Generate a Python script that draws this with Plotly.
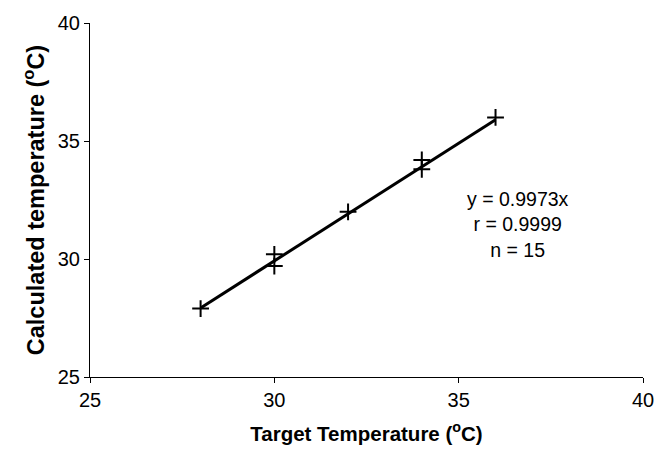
import plotly.graph_objects as go

target = [28, 30, 30, 32, 34, 34, 36]
calculated = [27.9, 30.2, 29.7, 32.0, 34.2, 33.8, 36.0]
slope = 0.9973
fit_x = [28, 36]
fit_y = [slope * v for v in fit_x]
ticks = [25, 30, 35, 40]
stats_text = "y = 0.9973x<br>r = 0.9999<br>n = 15"

FONT = "Liberation Sans, Arial, sans-serif"

fig = go.Figure()
fig.add_trace(go.Scatter(x=fit_x, y=fit_y, mode="lines",
                         line=dict(color="black", width=3), showlegend=False))
fig.add_trace(go.Scatter(x=target, y=calculated, mode="markers",
                         marker=dict(symbol="cross-thin", size=12,
                                     line=dict(color="black", width=2)),
                         showlegend=False))

fig.add_annotation(x=36.62, y=31.48, xref="x", yref="y",
                   text=stats_text, showarrow=False, align="center",
                   font=dict(family=FONT, size=19.5, color="black"))

axis_common = dict(range=[25, 40], tickvals=ticks, showgrid=False, zeroline=False,
                   showline=True, linecolor="black", linewidth=1,
                   ticks="outside", ticklen=5, tickcolor="black",
                   tickfont=dict(family=FONT, size=20, color="black"))

fig.update_layout(
    width=666, height=456,
    margin=dict(l=90, r=13, t=23, b=79),
    plot_bgcolor="white", paper_bgcolor="white",
    xaxis=dict(**axis_common,
               title=dict(text="<b>Target Temperature (<sup>o</sup>C)</b>",
                          font=dict(family=FONT, size=20.5, color="black"),
                          standoff=16)),
    yaxis=dict(**axis_common,
               title=dict(text="<b>Calculated temperature (<sup>o</sup>C)</b>",
                          font=dict(family=FONT, size=23.5, color="black"),
                          standoff=6)),
)

fig.write_html("out.html")
